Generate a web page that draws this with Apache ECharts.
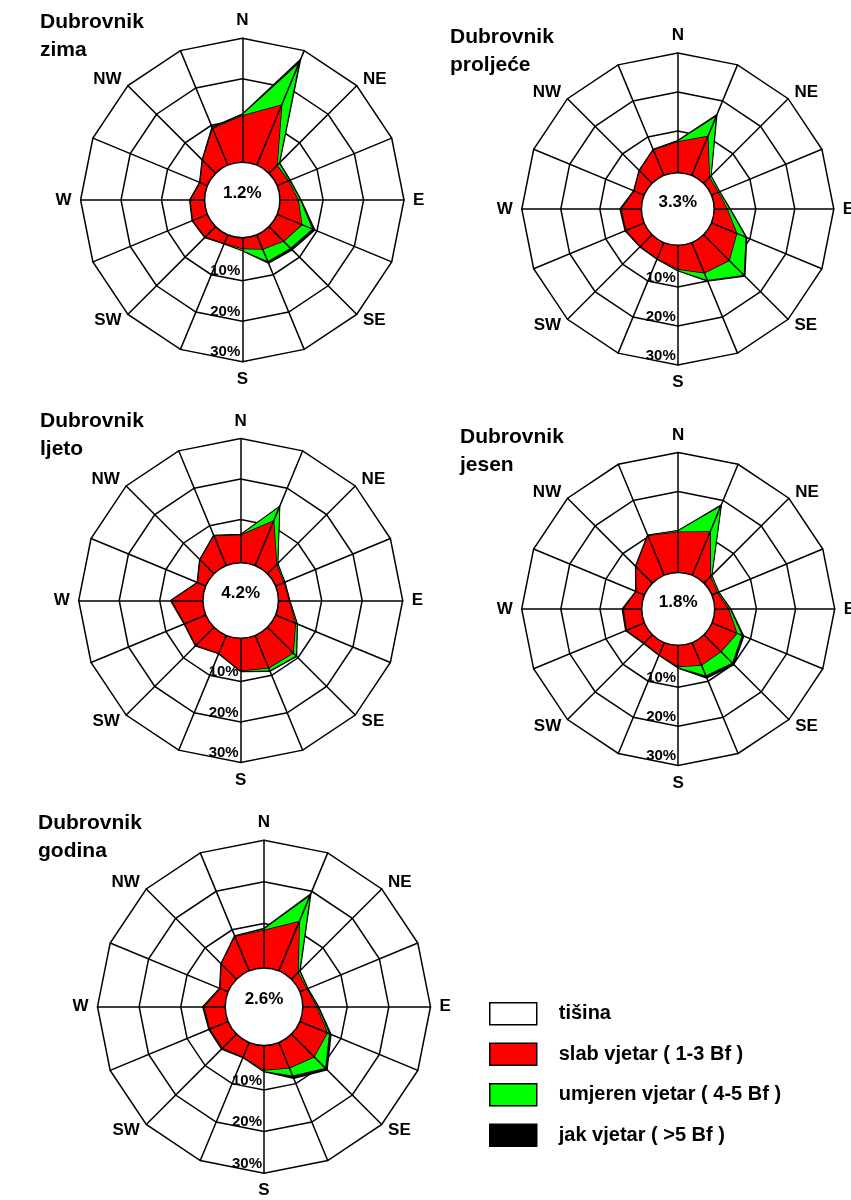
<!DOCTYPE html>
<html>
<head>
<meta charset="utf-8">
<title>Dubrovnik - ruže vjetrova</title>
<script src="https://cdn.jsdelivr.net/npm/echarts@6/dist/echarts.min.js"></script>
<style>
  html, body { margin: 0; padding: 0; background: #fff; }
  #chart { width: 851px; height: 1200px; }
</style>
</head>
<body>
<div id="chart"></div>
<script>
// smjerovi, od sjevera u smjeru kazaljke na satu
var smjerovi = ['N', 'NNE', 'NE', 'ENE', 'E', 'ESE', 'SE', 'SSE', 'S', 'SSW', 'SW', 'WSW', 'W', 'WNW', 'NW', 'NNW']
var oznake = ['N', '', 'NE', '', 'E', '', 'SE', '', 'S', '', 'SW', '', 'W', '', 'NW', '']
var sezone = ['zima', 'proljeće', 'ljeto', 'jesen', 'godina']
var tisina = [1.2, 3.3, 4.2, 1.8, 2.6]
var klase = ['slab vjetar ( 1-3 Bf )', 'umjeren vjetar ( 4-5 Bf )', 'jak vjetar ( >5 Bf )']

// čestine (%) po smjeru i jačini vjetra
var zimaSlab = [10.8, 15.4, 2.1, 2.3, 3.8, 5.9, 4.4, 3.1, 2.0, 1.5, 2.9, 3.2, 2.8, 1.2, 3.8, 9.1]
var zimaUmjeren = [0.2, 11.1, 0.7, 0.3, 0.5, 2.8, 2.4, 3.3, 0.4, 0.1, 0.1, 0.1, 0.1, 0.1, 0.1, 0.2]
var zimaJak = [0.2, 1.1, 0.2, 0.2, 0.2, 0.7, 0.6, 0.5, 0.1, 0.1, 0.1, 0.1, 0.1, 0.1, 0.1, 0.2]

var proljeceSlab = [7.2, 10.1, 1.4, 1.2, 2.6, 6.3, 8.6, 7.7, 5.4, 3.7, 3.5, 4.3, 4.4, 2.0, 3.8, 6.3]
var proljeceUmjeren = [0.2, 5.5, 0.5, 0.3, 0.6, 2.5, 5.3, 2.0, 0.3, 0.1, 0.1, 0.1, 0.2, 0.1, 0.1, 0.1]
var proljeceJak = [0.1, 0.5, 0.1, 0.1, 0.2, 0.3, 0.4, 0.3, 0.1, 0.1, 0.1, 0.2, 0.2, 0.1, 0.1, 0.1]

var ljetoSlab = [6.1, 11.2, 2.5, 1.5, 1.9, 4.6, 8.3, 8.0, 7.3, 4.0, 5.6, 4.9, 7.0, 1.4, 4.1, 7.2]
var ljetoUmjeren = [0.1, 3.7, 0.3, 0.2, 0.1, 0.4, 1.0, 0.7, 0.1, 0.1, 0.1, 0.1, 0.1, 0.1, 0.1, 0.1]
var ljetoJak = [0.1, 0.2, 0.1, 0.1, 0.1, 0.1, 0.2, 0.2, 0.1, 0.1, 0.1, 0.1, 0.2, 0.1, 0.1, 0.1]

var jesenSlab = [9.6, 11.3, 1.6, 0.8, 2.8, 6.2, 5.4, 5.5, 4.7, 2.6, 2.2, 4.2, 3.9, 1.5, 5.2, 10.2]
var jesenUmjeren = [0.3, 7.0, 0.4, 0.3, 0.4, 1.4, 4.1, 2.9, 0.3, 0.1, 0.1, 0.1, 0.1, 0.1, 0.1, 0.1]
var jesenJak = [0.1, 0.4, 0.1, 0.1, 0.2, 0.5, 0.6, 0.7, 0.1, 0.1, 0.2, 0.2, 0.3, 0.1, 0.1, 0.1]

var godinaSlab = [8.3, 12.1, 1.5, 1.1, 2.6, 6.4, 7.0, 5.9, 5.2, 3.0, 4.0, 4.0, 4.3, 1.3, 4.4, 8.2]
var godinaUmjeren = [0.3, 6.7, 0.5, 0.2, 0.3, 0.5, 3.8, 2.0, 0.3, 0.1, 0.2, 0.1, 0.2, 0.1, 0.1, 0.1]
var godinaJak = [0.2, 0.5, 0.2, 0.1, 0.2, 0.5, 0.6, 0.7, 0.1, 0.1, 0.2, 0.2, 0.2, 0.1, 0.1, 0.1]

var slab = [zimaSlab, proljeceSlab, ljetoSlab, jesenSlab, godinaSlab]
var umjeren = [zimaUmjeren, proljeceUmjeren, ljetoUmjeren, jesenUmjeren, godinaUmjeren]
var jak = [zimaJak, proljeceJak, ljetoJak, jesenJak, godinaJak]

// raspored ruža na stranici (središte, polumjer, naslov)
var ruze = [
  { x: 242.3, y: 200, r: 161.7, tx: 40, ty: 8 },
  { x: 677.8, y: 209, r: 156, tx: 450, ty: 23 },
  { x: 240.7, y: 600.5, r: 162, tx: 40, ty: 407 },
  { x: 678.2, y: 608.9, r: 156.5, tx: 460, ty: 423 },
  { x: 264, y: 1006.7, r: 166.5, tx: 38, ty: 809 }
]

var FONT = '"Liberation Sans", Arial, sans-serif'
var LW = 1.5

// radar ide suprotno od kazaljke, pa okrećemo redoslijed
function poredak(arr) {
  return arr.map(function (_, k) { return arr[(16 - k) % 16] })
}
function zbroj() {
  var nizovi = Array.prototype.slice.call(arguments)
  return nizovi[0].map(function (_, k) {
    var s = 0
    nizovi.forEach(function (n) { s += n[k] })
    return Math.round(s * 10) / 10
  })
}

var indikatori = poredak(oznake).map(function (o) { return { name: o, min: 0, max: 30 } })
var praznaImena = indikatori.map(function () { return { name: '', min: 0, max: 30 } })

var radar = []
var series = []
var polar = []
var angleAxis = []
var radiusAxis = []
var title = []
var graphic = []

ruze.forEach(function (p, i) {
  var rc = p.r * 0.233
  // mreža (prstenovi 10, 20, 30 %)
  radar.push({
    center: [p.x, p.y],
    radius: [p.r / 4, p.r],
    startAngle: 90,
    splitNumber: 3,
    shape: 'polygon',
    indicator: indikatori,
    axisName: { color: '#000', fontSize: 17, fontWeight: 'bold', fontFamily: FONT },
    nameGap: 9,
    axisLine: { show: false },
    splitLine: { lineStyle: { color: ['rgba(0,0,0,0)', '#000', '#000', '#000'], width: LW } },
    splitArea: { show: false },
    z: 1
  })
  // zrake preko ispune
  radar.push({
    center: [p.x, p.y],
    radius: [rc, p.r],
    startAngle: 90,
    shape: 'polygon',
    indicator: praznaImena,
    axisName: { show: false },
    axisLine: { lineStyle: { color: '#000', width: LW } },
    splitLine: { show: false },
    splitArea: { show: false },
    z: 5
  })

  var ri = i * 2
  var crvena = zbroj(slab[i])
  var zelena = zbroj(slab[i], umjeren[i])
  var crna = zbroj(slab[i], umjeren[i], jak[i])
  var sloj = function (ime, vrijednosti, boja, z) {
    return {
      type: 'radar',
      name: ime,
      radarIndex: ri,
      symbol: 'none',
      silent: true,
      z: z,
      itemStyle: { color: boja },
      lineStyle: { color: '#000', width: LW },
      areaStyle: { color: boja, opacity: 1 },
      data: [{ value: poredak(vrijednosti), name: sezone[i] }]
    }
  }
  series.push(sloj(klase[2], crna, '#000000', 2))
  series.push(sloj(klase[1], zelena, '#00ff00', 3))
  series.push(sloj(klase[0], crvena, '#ff0000', 4))

  // oznake 10%, 20%, 30% uz južnu zraku
  polar.push({ center: [p.x, p.y], radius: [p.r / 4, p.r] })
  angleAxis.push({ polarIndex: i, show: false, startAngle: -90, min: 0, max: 360 })
  radiusAxis.push({
    polarIndex: i,
    min: 0,
    max: 30,
    interval: 10,
    axisLine: { show: false },
    axisTick: { show: false },
    splitLine: { show: false },
    axisLabel: {
      formatter: '{value}%',
      showMinLabel: false,
      margin: -2,
      align: 'right',
      verticalAlign: 'bottom',
      padding: [0, 0, 2, 0],
      fontSize: 15,
      fontWeight: 'bold',
      color: '#000',
      fontFamily: FONT
    },
    z: 8
  })

  title.push({
    text: 'Dubrovnik\n' + sezone[i],
    left: p.tx,
    top: p.ty,
    padding: 0,
    textStyle: { fontSize: 21, fontWeight: 'bold', lineHeight: 28, color: '#000', fontFamily: FONT }
  })

  // tišina u sredini
  graphic.push({
    type: 'circle',
    shape: { cx: p.x, cy: p.y, r: rc },
    style: { fill: '#fff', stroke: '#000', lineWidth: LW },
    silent: true,
    z: 6
  })
  graphic.push({
    type: 'text',
    x: p.x,
    y: p.y - 7,
    silent: true,
    z: 7,
    style: {
      text: tisina[i] + '%',
      fill: '#000',
      font: 'bold 17px ' + FONT,
      textAlign: 'center',
      textVerticalAlign: 'middle'
    }
  })
})

series.push({ type: 'radar', name: 'tišina', radarIndex: 0, data: [] })

var option = {
  animation: false,
  backgroundColor: '#fff',
  title: title,
  radar: radar,
  polar: polar,
  angleAxis: angleAxis,
  radiusAxis: radiusAxis,
  legend: {
    orient: 'vertical',
    left: 484,
    top: 997,
    itemWidth: 47,
    itemHeight: 22,
    itemGap: 17,
    selectedMode: false,
    icon: 'rect',
    textStyle: { fontSize: 20, fontWeight: 'bold', color: '#000', fontFamily: FONT, padding: [0, 0, 0, 17] },
    data: [
      { name: 'tišina', itemStyle: { color: '#fff', borderColor: '#000', borderWidth: LW } },
      { name: klase[0], itemStyle: { color: '#ff0000', borderColor: '#000', borderWidth: LW } },
      { name: klase[1], itemStyle: { color: '#00ff00', borderColor: '#000', borderWidth: LW } },
      { name: klase[2], itemStyle: { color: '#000000', borderColor: '#000', borderWidth: LW } }
    ]
  },
  graphic: graphic,
  series: series
}

var chart = echarts.init(document.getElementById('chart'))
chart.setOption(option)
</script>
</body>
</html>
